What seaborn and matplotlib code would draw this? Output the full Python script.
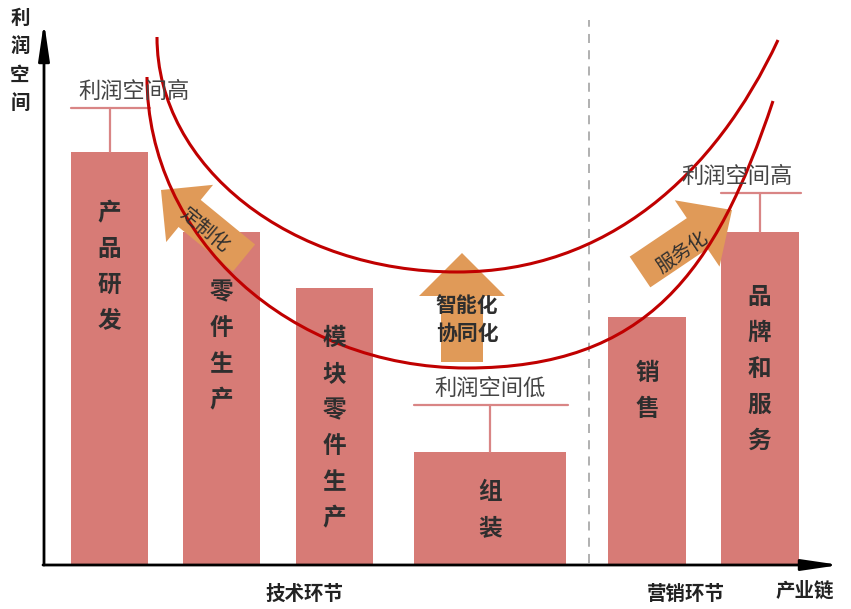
import matplotlib
matplotlib.use("Agg")
import matplotlib.pyplot as plt
import numpy as np
import pandas as pd
import seaborn as sns
from matplotlib.path import Path
from matplotlib.patches import PathPatch, FancyArrow

# ---- data ----
stages = ['产品研发', '零件生产', '模块零件生产', '组装', '销售', '品牌和服务']
profit = [413, 333, 277, 113, 248, 333]
groups = ['技术环节', '营销环节']
arrow_labels = ['定制化', '智能化\n协同化', '服务化']
level_labels = ['利润空间高', '利润空间低', '利润空间高']
level_bars = [0, 3, 5]
y_title = '利润空间'
x_title = '产业链'

# ---- layout (pixel-based, 1 data unit = 1 px) ----
BASE = 565          # pixel row of the x axis
bar_center = [109.5, 221.5, 334, 490, 647, 759.5]
bar_width = [77, 77, 77, 152, 78, 78]
label_top = [213, 292, 338, 492, 373, 297]
bracket_gap = [44, 47, 39]
level_dx = [25, 0, -22]

BAR = '#D77B76'
BRACKET = '#D98585'
ORANGE = '#E09A58'
CURVE = '#C00000'
TXT = '#2E2E2E'
FONT = ['Noto Sans CJK SC', 'DejaVu Sans']


def py(p):
    """pixel row -> data y"""
    return BASE - p


sns.set_theme(style='white')
plt.rcParams['font.family'] = FONT

fig = plt.figure(figsize=(8.51, 6.09), dpi=100)
ax = fig.add_axes([0, 0, 1, 1])

df = pd.DataFrame({'pos': bar_center, 'profit': profit, 'stage': stages})
sns.barplot(data=df, x='pos', y='profit', native_scale=True, color=BAR,
            saturation=1, linewidth=0, width=0.69, ax=ax, zorder=1)
for patch, cx, w in zip(ax.patches, bar_center, bar_width):
    patch.set_x(cx - w / 2)
    patch.set_width(w)

# stacked labels inside bars
for name, cx, top in zip(stages, bar_center, label_top):
    for i, ch in enumerate(name):
        ax.text(cx, py(top + 36 * i), ch, ha='center', va='center',
                fontsize=17, color=TXT, fontweight='bold', zorder=6)

# "profit high / low" brackets
for b, txt, gap, dx in zip(level_bars, level_labels, bracket_gap, level_dx):
    top = profit[b]
    cx, w = bar_center[b], bar_width[b]
    yl = top + gap
    ax.plot([cx - w / 2, cx + w / 2 + 2], [yl, yl], color=BRACKET, lw=1.6, zorder=2)
    ax.plot([cx, cx], [top, yl], color=BRACKET, lw=1.6, zorder=2)
    ax.text(cx + dx, yl + 17, txt, ha='center', va='center', fontsize=16,
            color='#444444', zorder=6)

# orange arrows
arrows = [
    dict(tail=(244, 258), tip=(161, 190), w=35, hw=74, hl=37),
    dict(tail=(462, 362), tip=(462, 253), w=42, hw=86, hl=43),
    dict(tail=(640, 272), tip=(732, 210), w=37, hw=80, hl=42),
]
for a in arrows:
    x0, y0 = a['tail'][0], py(a['tail'][1])
    x1, y1 = a['tip'][0], py(a['tip'][1])
    ax.add_patch(FancyArrow(x0, y0, x1 - x0, y1 - y0, width=a['w'],
                            head_width=a['hw'], head_length=a['hl'],
                            length_includes_head=True, color=ORANGE, lw=0, zorder=3))

ax.text(204, py(230), arrow_labels[0], rotation=-40, ha='center', va='center',
        fontsize=14, color=TXT, rotation_mode='anchor', zorder=6)
for i, line in enumerate(arrow_labels[1].split('\n')):
    ax.text(467, py(305 + 28 * i), line, ha='center', va='center',
            fontsize=15, color=TXT, fontweight='bold', zorder=6)
ax.text(682, py(252), arrow_labels[2], rotation=34, ha='center', va='center',
        fontsize=14, color=TXT, rotation_mode='anchor', zorder=6)

# smile curves (two-piece cubic beziers)
def smile(pts):
    verts = [(x, py(y)) for x, y in pts]
    codes = [Path.MOVETO] + [Path.CURVE4] * 6
    return PathPatch(Path(verts, codes), fill=False, edgecolor=CURVE, lw=2.2,
                     capstyle='butt', zorder=4)


ax.add_patch(smile([(157, 37), (157, 167), (291, 272), (457, 272),
                    (607, 272), (715, 175), (778, 40)]))
ax.add_patch(smile([(147, 77), (147, 238), (290, 368), (467, 368),
                    (647, 368), (716, 272), (773, 101)]))

# divider between technology and marketing
ax.plot([589, 589], [py(563), py(20)], ls=(0, (5, 4)), color='#AAAAAA', lw=1.3, zorder=0)

# axes with arrow heads
arrow_kw = dict(arrowstyle='-|>,head_length=1.5,head_width=0.22', color='black',
                lw=2, mutation_scale=15, shrinkA=0, shrinkB=0)
ax.annotate('', xy=(44, py(22)), xytext=(44, py(BASE)), arrowprops=arrow_kw)
ax.annotate('', xy=(840, 0), xytext=(43, 0), arrowprops=arrow_kw)

for i, ch in enumerate(y_title):
    ax.text(20, py(18 + 28.5 * i), ch, ha='center', va='center', fontsize=14,
            fontweight='bold', color='#222222')

ax.text(304, py(594), groups[0], ha='center', va='center', fontsize=14,
        fontweight='bold', color='#222222')
ax.text(686, py(594), groups[1], ha='center', va='center', fontsize=14,
        fontweight='bold', color='#222222')
ax.text(805, py(591), x_title, ha='center', va='center', fontsize=14,
        fontweight='bold', color='#222222')

ax.set_xlim(0, 851)
ax.set_ylim(py(609), py(0))
ax.axis('off')

fig.savefig('out.png', dpi=100)
